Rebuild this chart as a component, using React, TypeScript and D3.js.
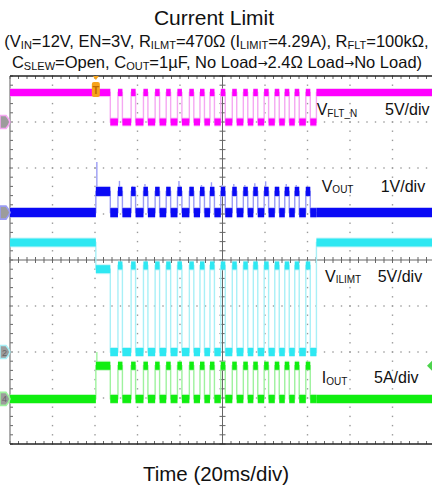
import React from "react";
import * as d3 from "d3";

const W = 432;
const H = 487;

const titleText = "Current Limit";
const xTitle = "Time (20ms/div)";

// event times in ms (0 = centre of screen)
const loadOnMs = -59.6;
const faultMs = -52.8;
const loadOffMs = 44.2;
const retryMs = [-49.2, -43.0, -37.2, -31.7, -26.5, -21.2, -15.6, -10.6, -5.9, -0.8, 4.6, 9.8, 14.5, 19.6, 24.6, 29.3, 34.0, 39.2];
const retryWidthMs = 2.1;

// channels: VFLT_N, VOUT, VILIMT, IOUT
const chName = ["V", "V", "V", "I"];
const chSub = ["FLT_N", "OUT", "ILIMT", "OUT"];
const chScale = ["5V/div", "1V/div", "5V/div", "5A/div"];
const chNum = ["", "", "2", "4"];
const chPerDiv = [5, 1, 5, 5];
const chOffsetDiv = [3.0, 1.03, -2.0, -3.02];

const preLevel = [3.2, 0, 11.9, 0];
const loadPeak = [3.2, 1.1, 9.0, 5.1];
const loadLevel = [3.2, 0.46, 9.0, 3.6];
const offLevel = [0, 0, 0, 0];
const pulseLevel = [3.2, 0.46, 9.4, 3.6];
const postLevel = [3.2, 0, 11.9, 0];
const voutPeak = [0.69, 0.58, 0.62, 0.55, 0.56, 0.69, 0.56, 0.6, 0.66, 0.6, 0.62, 0.6, 0.64, 0.68, 0.56, 0.62, 0.6, 0.55];

// look
const chColor = ["#ff00ff", "#0a0af5", "#2ee8f2", "#10ee10"];
const chEdge = ["#f5a8f2", "#9a9cf5", "#a8f0f7", "#9ef29e"];
const chBand = [7, 9, 8, 8];
const labelX = [316.7, 321.7, 325, 321.7];
const labelY = [115, 191.7, 281.7, 383.3];
const scaleX = [385, 380.7, 377.7, 374];

const font = "'Liberation Sans', Arial, sans-serif";

const x = d3.scaleLinear().domain([-100, 100]).range([10, 435]);
const yDiv = d3.scaleLinear().domain([-4, 4]).range([444, 76]);
const yCh = (c: number, v: number) => yDiv(chOffsetDiv[c] + v / chPerDiv[c]);

function segments(c: number): [number, number, number][] {
  const s: [number, number, number][] = [];
  s.push([-100, loadOnMs, preLevel[c]]);
  s.push([loadOnMs, faultMs, loadLevel[c]]);
  let t = faultMs;
  retryMs.forEach(r => {
    s.push([t, r, offLevel[c]]);
    s.push([r, r + retryWidthMs, pulseLevel[c]]);
    t = r + retryWidthMs;
  });
  s.push([t, loadOffMs, offLevel[c]]);
  s.push([loadOffMs, 100, postLevel[c]]);
  return s;
}

const Trace = ({ c }: { c: number }) => {
  const segs = segments(c);
  const pts: [number, number][] = [];
  segs.forEach(([t0, t1, v]) => {
    pts.push([x(t0), yCh(c, v)]);
    pts.push([x(t1), yCh(c, v)]);
  });
  const line = d3.line();
  const spikes: [number, number, number][] = [];
  if (loadPeak[c] !== loadLevel[c]) spikes.push([x(loadOnMs) + 1, yCh(c, loadLevel[c]), yCh(c, loadPeak[c])]);
  if (c === 1) retryMs.forEach((r, i) => spikes.push([x(r) + 1.5, yCh(c, pulseLevel[c]), yCh(c, voutPeak[i])]));
  return (
    <g>
      <path d={line(pts) || ""} fill="none" stroke={chEdge[c]} strokeWidth={1.4} />
      {spikes.map((s, i) => (
        <line key={"s" + i} x1={s[0]} x2={s[0]} y1={s[1]} y2={s[2]} stroke={chEdge[c]} strokeWidth={1.4} />
      ))}
      {segs.map(([t0, t1, v], i) => (
        <g key={i}>
          <line x1={x(t0)} x2={x(t1)} y1={yCh(c, v)} y2={yCh(c, v)} stroke={chEdge[c]} strokeWidth={chBand[c] + 2} opacity={0.6} />
          <line x1={x(t0)} x2={x(t1)} y1={yCh(c, v)} y2={yCh(c, v)} stroke={chColor[c]} strokeWidth={chBand[c]} />
        </g>
      ))}
    </g>
  );
};

const Grid = () => {
  const xMinor = d3.range(-100, 100.01, 4);
  const yMinor = d3.range(-4, 4.001, 0.2);
  const xMajor = d3.range(-80, 100, 20).filter(t => t !== 0);
  const yMajor = d3.range(-3, 4, 1).filter(d => d !== 0);
  const dots: [number, number][] = [];
  xMajor.forEach(t => yMinor.forEach(d => dots.push([x(t), yDiv(d)])));
  yMajor.forEach(d => xMinor.forEach(t => dots.push([x(t), yDiv(d)])));
  return (
    <g>
      {dots.map((p, i) => (
        <rect key={i} x={p[0] - 0.7} y={p[1] - 0.7} width={1.4} height={1.4} fill="#9a9a9a" />
      ))}
      <line x1={x(0)} x2={x(0)} y1={yDiv(4)} y2={yDiv(-4)} stroke="#666" strokeWidth={1} />
      <line x1={x(-100)} x2={W} y1={yDiv(0)} y2={yDiv(0)} stroke="#666" strokeWidth={1} />
      {xMinor.map((t, i) => (
        <g key={"xt" + i}>
          <line x1={x(t)} x2={x(t)} y1={yDiv(0) - 3} y2={yDiv(0) + 3} stroke="#666" />
          <line x1={x(t)} x2={x(t)} y1={yDiv(4)} y2={yDiv(4) + 3} stroke="#666" />
          <line x1={x(t)} x2={x(t)} y1={yDiv(-4)} y2={yDiv(-4) - 3} stroke="#666" />
        </g>
      ))}
      {yMinor.map((d, i) => (
        <g key={"yt" + i}>
          <line x1={x(0) - 3} x2={x(0) + 3} y1={yDiv(d)} y2={yDiv(d)} stroke="#666" />
          <line x1={x(-100)} x2={x(-100) + 3} y1={yDiv(d)} y2={yDiv(d)} stroke="#666" />
        </g>
      ))}
      <line x1={x(-100)} x2={x(-100)} y1={yDiv(4)} y2={yDiv(-4)} stroke="#777" strokeWidth={1.2} />
      <line x1={x(-100)} x2={W} y1={yDiv(4)} y2={yDiv(4)} stroke="#222" strokeWidth={1.6} />
      <line x1={x(-100)} x2={W} y1={yDiv(-4)} y2={yDiv(-4)} stroke="#222" strokeWidth={1.6} />
    </g>
  );
};

const Marker = ({ c }: { c: number }) => {
  const y = yDiv(chOffsetDiv[c]);
  return (
    <g>
      <path d={`M0,${y - 6.5}L6,${y - 6.5}Q9,${y - 3} 10,${y}Q9,${y + 3} 6,${y + 6.5}L0,${y + 6.5}Z`} fill="#9c9c9c" stroke={chEdge[c]} strokeWidth={1.6} />
      <text x={4.5} y={y + 3.5} fontSize={9} fontFamily={font} fill="#666" textAnchor="middle">{chNum[c]}</text>
    </g>
  );
};

const arrowStyle = { fontFamily: "'DejaVu Sans', sans-serif", fontSize: 12 };

const App = () => {
  const chans = [0, 1, 2, 3];
  const tx = x(loadOnMs);
  const gy = yCh(3, 3.6);
  return (
    <div style={{ position: "absolute", left: 0, top: 0 }}>
      <svg width={W} height={H} style={{ display: "block", background: "#fff" }}>
        <rect width={W} height={H} fill="#fff" />
        <text x={214} y={25} textAnchor="middle" fontFamily={font} fontSize={21} fill="#111">{titleText}</text>
        <text x={216.5} y={46.5} textAnchor="middle" fontFamily={font} fontSize={16.5} fill="#111">
          (V<tspan fontSize={11} dy={2}>IN</tspan>
          <tspan dy={-2}>=12V, EN=3V, R</tspan><tspan fontSize={11} dy={2}>ILMT</tspan>
          <tspan dy={-2}>=470Ω (I</tspan><tspan fontSize={11} dy={2}>LIMIT</tspan>
          <tspan dy={-2}>=4.29A), R</tspan><tspan fontSize={11} dy={2}>FLT</tspan>
          <tspan dy={-2}>=100kΩ,</tspan>
        </text>
        <text x={217} y={68} textAnchor="middle" fontFamily={font} fontSize={16.5} fill="#111">
          C<tspan fontSize={11} dy={2}>SLEW</tspan>
          <tspan dy={-2}>=Open, C</tspan><tspan fontSize={11} dy={2}>OUT</tspan>
          <tspan dy={-2}>=1µF, No Load</tspan><tspan style={arrowStyle} dy={-1}>→</tspan>
          <tspan dy={1}>2.4Ω Load</tspan><tspan style={arrowStyle} dy={-1}>→</tspan>
          <tspan dy={1}>No Load)</tspan>
        </text>

        <Grid />
        {chans.map(c => <Trace key={c} c={c} />)}
        {chans.map(c => <Marker key={c} c={c} />)}

        <path d={`M${tx - 3},${yDiv(4)}L${tx + 3},${yDiv(4)}L${tx},${yDiv(4) + 4}Z`} fill="#f7a31c" />
        <rect x={tx - 4} y={82} width={8} height={15} rx={2} fill="#f7a31c" />
        <text x={tx} y={94} textAnchor="middle" fontFamily={font} fontSize={11} fontWeight="bold" fill="#c06a00">T</text>
        <path d={`M427,${gy}L432,${gy - 5}L437,${gy - 5}L437,${gy + 5}L432,${gy + 5}Z`} fill="#4cd44c" />

        {chans.map(c => (
          <g key={"l" + c} fontFamily={font} fill="#111">
            <text x={labelX[c]} y={labelY[c]} fontSize={16}>
              {chName[c]}<tspan fontSize={10} dy={1.5}>{chSub[c]}</tspan>
            </text>
            <text x={scaleX[c]} y={labelY[c]} fontSize={16}>{chScale[c]}</text>
          </g>
        ))}

        <text x={216} y={481} textAnchor="middle" fontFamily={font} fontSize={20.5} fill="#111">{xTitle}</text>
      </svg>
    </div>
  );
};

export default App;
